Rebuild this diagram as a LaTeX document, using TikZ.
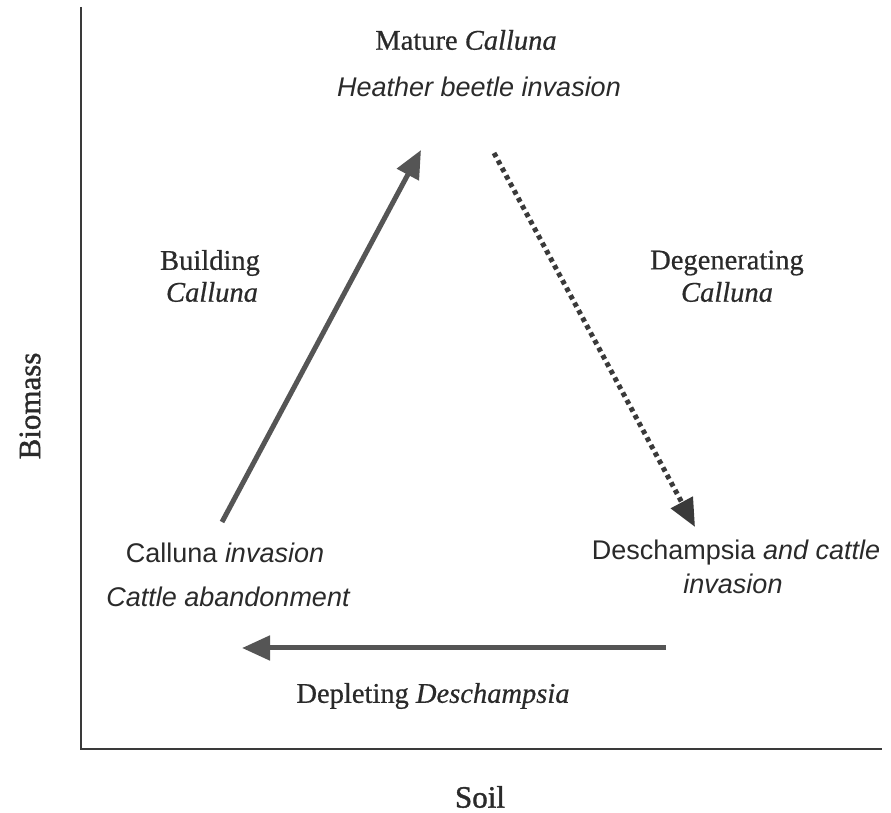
\documentclass[tikz,border=0pt]{standalone}
\usepackage{fontspec}
\setmainfont{Liberation Serif}[FakeBold=0.6]
\setsansfont{Liberation Sans}
\newfontfamily\axisfont{Liberation Serif}[FakeBold=1.2]
\usetikzlibrary{arrows.meta}
\definecolor{arrowgray}{HTML}{555555}
\definecolor{axisgray}{HTML}{3A3A3A}
\definecolor{txt}{HTML}{2A2A2A}
\tikzset{
  x=1pt,y=1pt,
  serlabel/.style={font=\fontsize{28.5}{32}\selectfont\rmfamily, text=txt, inner sep=0pt, anchor=center},
  axislabel/.style={font=\fontsize{31}{34}\selectfont\axisfont, text=txt, inner sep=0pt, anchor=center},
  sanslabel/.style={font=\fontsize{27}{31}\selectfont\sffamily, text=txt, inner sep=0pt, anchor=center},
  axisline/.style={draw=axisgray, line width=1.6pt},
  flowarrow/.style={draw=arrowgray, line width=5pt, -{Triangle[length=28pt,width=24pt]}},
  dotarrow/.style={flowarrow, draw=axisgray, dash pattern=on 4.5pt off 4pt},
}
\begin{document}
\begin{tikzpicture}
\useasboundingbox (0,0) rectangle (891,813);
% axes
\coordinate (origin) at (81,64);
\coordinate (ytop) at (81,806);
\coordinate (xend) at (882,64);
\draw[axisline] (ytop) -- (origin) -- (xend);
% texts
\node[serlabel] (mature) at (466,773) {Mature \textit{Calluna}};
\node[sanslabel] (beetle) at (479,726) {\itshape Heather beetle invasion};
\node[serlabel] (build1) at (210,550) {Building};
\node[serlabel] (build2) at (212,521) {\textit{Calluna}};
\node[serlabel] (degen1) at (727,550) {Degenerating};
\node[serlabel] (degen2) at (727,521) {\textit{Calluna}};
\node[sanslabel] (cinv) at (225,260) {Calluna \textit{invasion}};
\node[sanslabel] (cab) at (228,216) {\itshape Cattle abandonment};
\node[sanslabel] (dinv1) at (736,260) {Deschampsia \textit{and cattle}};
\node[sanslabel] (dinv2) at (733,229) {\itshape invasion};
\node[serlabel] (deplete) at (433,117) {Depleting \textit{Deschampsia}};
\node[axislabel] (soil) at (480,16) {Soil};
\node[axislabel, rotate=90] (biomass) at (30,407) {Biomass};
% arrows
\coordinate (a1s) at (222,291);
\coordinate (a1e) at (421,663);
\coordinate (a2s) at (494,660);
\coordinate (a2e) at (695,286);
\coordinate (a3s) at (666,165);
\coordinate (a3e) at (242,165);
\draw[flowarrow] (a1s) -- (a1e);
\draw[dotarrow] (a2s) -- (a2e);
\draw[flowarrow] (a3s) -- (a3e);
\end{tikzpicture}
\end{document}
